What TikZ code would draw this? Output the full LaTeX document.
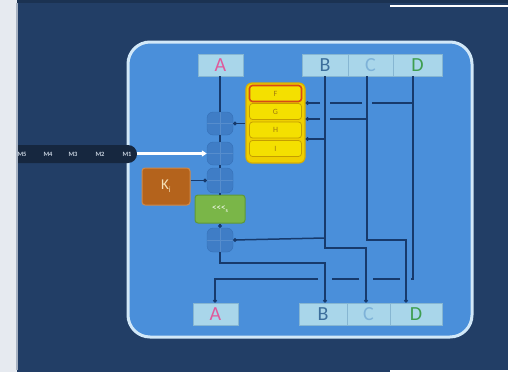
\documentclass[tikz,border=0pt]{standalone}
\usepackage{fontspec}
\setmainfont{Carlito}
\usetikzlibrary{arrows.meta}
\definecolor{navy}{HTML}{223E66}
\definecolor{leftstrip}{HTML}{E6EAF0}
\definecolor{mainfill}{HTML}{4A8FDA}
\definecolor{mainbd}{HTML}{D2E8F8}
\definecolor{boxfill}{HTML}{A9D6EA}
\definecolor{boxbd}{HTML}{86B6D2}
\definecolor{lnc}{HTML}{173A6C}
\definecolor{adfill}{HTML}{3F7DC6}
\definecolor{adbd}{HTML}{3670B6}
\definecolor{yelfill}{HTML}{EFD000}
\definecolor{yelbd}{HTML}{D9AE00}
\definecolor{rowfill}{HTML}{F4E000}
\definecolor{rowbd}{HTML}{C49E00}
\definecolor{rowtext}{HTML}{A07A10}
\definecolor{fred}{HTML}{D64A16}
\definecolor{kfill}{HTML}{B4631C}
\definecolor{kbd}{HTML}{D08A4A}
\definecolor{ktext}{HTML}{F6E2B8}
\definecolor{gfill}{HTML}{7AB648}
\definecolor{gbd}{HTML}{5E9836}
\definecolor{stripc}{HTML}{16273F}
\definecolor{stext}{HTML}{C4CFDC}
\definecolor{Acol}{HTML}{E05A9B}
\definecolor{Bcol}{HTML}{3C6E9C}
\definecolor{Ccol}{HTML}{7EB2D8}
\definecolor{Dcol}{HTML}{3E9E50}
\begin{document}
\begin{tikzpicture}[x=1pt,y=-1pt,
  lbl/.style={draw=boxbd, fill=boxfill, line width=0.8pt, minimum height=22pt, inner sep=0pt, font=\fontsize{20}{20}\selectfont},
  adder/.style={draw=adbd, fill=adfill, rounded corners=6pt, minimum width=26pt, minimum height=23pt, inner sep=0pt,
    path picture={\draw[adfill!88!white, line width=0.5pt] (path picture bounding box.north) -- (path picture bounding box.south)
      (path picture bounding box.west) -- (path picture bounding box.east);}},
  row/.style={draw=rowbd, fill=rowfill, line width=0.8pt, rounded corners=3pt, minimum width=52pt, minimum height=16pt, inner sep=0pt, text=rowtext, font=\fontsize{8}{8}\selectfont},
  ln/.style={draw=lnc, line width=1.5pt},
  dotend/.style={-{Circle[length=3.6pt]}},
  mlbl/.style={text=stext, font=\fontsize{6.5}{6.5}\selectfont\bfseries, inner sep=0pt}
]
\useasboundingbox (0,0) rectangle (508,372);
% background
\fill[navy] (0,0) rectangle (508,372);
\fill[navy!80!black] (17,0) rectangle (508,3);
\fill[white] (390,5) rectangle (508,7);
\fill[white] (390,370) rectangle (508,372);
% main panel
\draw[fill=mainfill, draw=mainbd, line width=3pt, rounded corners=22pt] (128,42) rectangle (472,337);
% message strip
\fill[stripc, rounded corners=9pt] (5,145) rectangle (137,163);
\node[mlbl] (m5) at (22,154) {M5};
\node[mlbl] (m4) at (48,154) {M4};
\node[mlbl] (m3) at (73,154) {M3};
\node[mlbl] (m2) at (100,154) {M2};
\node[mlbl] (m1) at (127,154) {M1};
\fill[leftstrip] (0,0) rectangle (17,372);
\fill[navy!40!white] (16,3) rectangle (17.5,370);
% top registers
\node[lbl, minimum width=45pt, text=Acol] (Atop) at (220.5,65) {A};
\node[lbl, minimum width=46pt, text=Bcol] (Btop) at (325,65) {B};
\node[lbl, minimum width=45pt, text=Ccol] (Ctop) at (370.5,65) {C};
\node[lbl, minimum width=49pt, text=Dcol] (Dtop) at (417.5,65) {D};
% bottom registers
\node[lbl, minimum width=45pt, text=Acol] (Abot) at (215.5,314) {A};
\node[lbl, minimum width=48pt, text=Bcol] (Bbot) at (323,314) {B};
\node[lbl, minimum width=43pt, text=Ccol] (Cbot) at (368.5,314) {C};
\node[lbl, minimum width=52pt, text=Dcol] (Dbot) at (416,314) {D};
% adders
\node[adder] (ad1) at (220,123.5) {};
\node[adder] (ad2) at (220,153.5) {};
\node[adder, minimum height=25pt] (ad3) at (220,180.5) {};
\node[adder, minimum height=24pt] (ad4) at (220,240) {};
% green shift box
\node[draw=gbd, fill=gfill, line width=1pt, rounded corners=3pt, minimum width=50pt, minimum height=28pt, inner sep=0pt,
  text=white, font=\fontsize{9}{9}\selectfont] (rot) at (220,209) {<{}<{}<\raisebox{-2.5pt}{\fontsize{6}{6}\selectfont s}};
% K box
\node[draw=kbd, fill=kfill, line width=1pt, rounded corners=3pt, minimum width=48pt, minimum height=37pt, inner sep=0pt,
  text=ktext, font=\fontsize{15}{15}\selectfont] (K) at (166,186.5) {K\raisebox{-3pt}{\fontsize{8}{8}\selectfont i}};
% yellow function block
\node[draw=yelbd, fill=yelfill, line width=1.2pt, rounded corners=6pt, minimum width=59pt, minimum height=80pt, inner sep=0pt] (fun) at (275.5,123) {};
\node[row, draw=fred, line width=1.6pt] (F) at (275.5,93.5) {F};
\node[row] (G) at (275.5,111.5) {G};
\node[row] (H) at (275.5,130) {H};
\node[row] (I) at (275.5,148.5) {I};
% adder chain
\draw[ln] (Atop.south -| ad1.north) -- (ad1.north);
\draw[ln] (ad1.south) -- (ad2.north);
\draw[ln] (ad2.south) -- (ad3.north);
\draw[ln] (ad3.south) -- (rot.north);
\draw[ln, dotend] (rot.south) -- (ad4.north);
\draw[ln, dotend] (fun.west |- ad1.east) -- (ad1.east);
\draw[ln, dotend] (K.east |- ad3.west) -- (ad3.west);
\draw[white, line width=2.2pt, -{Triangle[length=5pt,width=6pt]}] (137,153.5) -- (ad2.west);
% B column: top B -> bottom C
\coordinate (b1) at (325,248);
\coordinate (b2) at (366,248);
\draw[ln, dotend] (Btop.south -| b1) -- (b1) -- (b2) -- (b2 |- Cbot.north);
% C column: top C -> bottom D
\coordinate (c1) at (367,240);
\coordinate (c2) at (406,240);
\draw[ln, dotend] (Ctop.south -| c1) -- (c1) -- (c2) -- (c2 |- Dbot.north);
% D column: top D -> bottom A (with crossing gaps)
\coordinate (d1) at (413,279);
\coordinate (d2) at (215,279);
\draw[ln] (Dtop.south -| d1) -- (d1) -- (411,279);
\draw[ln] (400,279) -- (373,279);
\draw[ln] (359,279) -- (332,279);
\draw[ln, dotend] (318,279) -- (d2) -- (d2 |- Abot.north);
% adder 4 input from B line
\draw[ln, dotend] (325,238) -- (ad4.east);
% adder 4 output -> bottom B
\coordinate (o1) at (220,263);
\coordinate (o2) at (325,263);
\draw[ln, dotend] (ad4.south) -- (o1) -- (o2) -- (o2 |- Bbot.north);
% inputs to function block
\draw[ln] (413,103) -- (372,103);
\draw[ln] (362,103) -- (330,103);
\draw[ln, dotend] (320,103) -- (fun.east |- 0,103);
\draw[ln] (367,119) -- (330,119);
\draw[ln, dotend] (320,119) -- (fun.east |- 0,119);
\draw[ln, dotend] (325,139) -- (fun.east |- 0,139);
\end{tikzpicture}
\end{document}
